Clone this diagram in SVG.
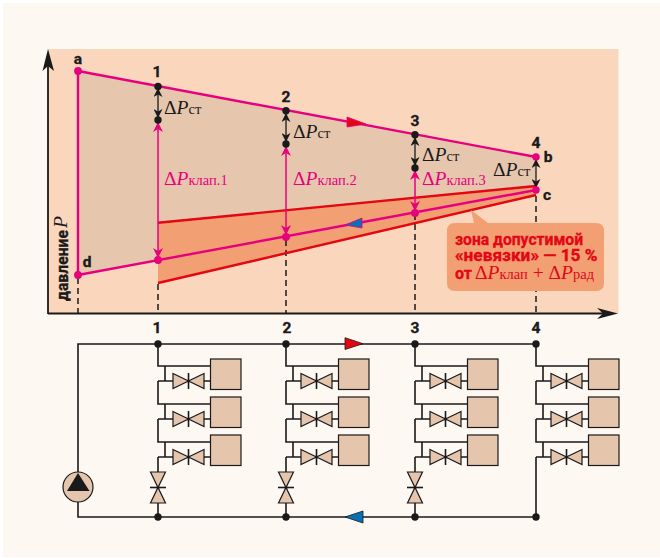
<svg xmlns="http://www.w3.org/2000/svg" xmlns:xlink="http://www.w3.org/1999/xlink" width="660" height="558" viewBox="0 0 660 558">
<style>
.b{font-family:"Roboto","Liberation Sans",sans-serif;font-weight:700;fill:#1a1a1a;stroke:#1a1a1a;stroke-width:.35}
.r{fill:#e30613;stroke:#e30613;font-size:16px}
.d{font-family:"Liberation Serif",serif;font-size:19.500px;fill:#1a1a1a}
.m{fill:#e6007e}
.i{font-style:italic}
.s{font-size:14.500px}
.dash{stroke:#1a1a1a;stroke-width:1.500;stroke-dasharray:6 4;fill:none}
.pipe{stroke:#1a1a1a;stroke-width:1.600;fill:none}
.v{fill:#e6c5ad;stroke:#1a1a1a;stroke-width:1.200}
.pk{stroke:#e6007e;stroke-width:2.400;fill:none}
.rd{stroke:#e30613;stroke-width:2.400;fill:none}
</style>
<defs>
<marker id="aK" viewBox="0 0 10 10" refX="9" refY="5" markerWidth="11" markerHeight="9" markerUnits="userSpaceOnUse" orient="auto-start-reverse"><path d="M0 0L10 5L0 10L3 5Z" fill="#1a1a1a"/></marker>
<marker id="aM" viewBox="0 0 10 10" refX="9" refY="5" markerWidth="13" markerHeight="10" markerUnits="userSpaceOnUse" orient="auto-start-reverse"><path d="M0 0L10 5L0 10L3 5Z" fill="#e6007e"/></marker>
<g id="rads">
<path class="pipe" d="M0 0V22H52M7 22V37H15M0 37H15M0 37V60H52M7 60V75H15M0 75V98H52M7 98V113H15M0 75H15M0 113H15M46 37H52M46 75H52M46 113H52"/>
<g id="v1"><path class="v" d="M15 29.500L30.500 37L15 44.500ZM46 29.500L30.500 37L46 44.500Z"/><path class="pipe" d="M30.500 29V45"/><circle cx="30.500" cy="37" r="1.500" fill="#1a1a1a"/></g>
<use xlink:href="#v1" href="#v1" y="38"/><use xlink:href="#v1" href="#v1" y="76"/>
<rect class="v" x="52.500" y="15" width="30.500" height="30.500" stroke-width="1.300"/>
<rect class="v" x="52.500" y="53" width="30.500" height="30.500" stroke-width="1.300"/>
<rect class="v" x="52.500" y="91" width="30.500" height="30.500" stroke-width="1.300"/>
</g>
<g id="bv"><path class="v" d="M-7.500 0H7.500L0 15.500ZM-7.500 31H7.500L0 15.500Z"/><path class="pipe" d="M-8 15.500H8"/><circle cx="0" cy="15.500" r="1.500" fill="#1a1a1a"/></g>
</defs>
<rect width="660" height="558" fill="#ffffff"/>
<rect x="3" y="3" width="657" height="554" fill="#fdf8f2"/>
<rect x="48" y="49" width="570.500" height="264.500" fill="#fad6bd"/>

<g id="chart-zones">
<path d="M78 71L536 157V186L158 222.700V260L78 275Z" fill="#e6c7ae"/>
<path d="M158 222.700L536 186V195L158 283Z" fill="#f29f73"/>
</g>

<g id="connectors">
<path class="dash" d="M78 278V313M158 284V313M286 240V313M415 214V313M536 196V313"/>
<path d="M48 313.500H604" stroke="#1a1a1a" stroke-width="1.800"/>
<path d="M48 314V62" stroke="#1a1a1a" stroke-width="1.800"/>
<path d="M48 49L54 71L48 66L42.500 71Z" fill="#1a1a1a"/>
<path d="M618 313.500L597 308L603 313.500L597 319Z" fill="#1a1a1a"/>
<path class="rd" d="M158 222.700L536 186M158 283L536 195"/>
<path class="pk" d="M78 71L536 157M78 71V275L536 190"/>
<path d="M347 117L366 124L347 127Z" fill="#e30613" stroke="#e6007e" stroke-width=".8"/>
<path d="M345 225L362 218V228Z" fill="#0a6fb5" stroke="#e6007e" stroke-width=".8"/>
<g stroke="#1a1a1a" stroke-width="1.300" fill="none">
<path d="M158 89V117" marker-start="url(#aK)" marker-end="url(#aK)"/>
<path d="M286 114V141" marker-start="url(#aK)" marker-end="url(#aK)"/>
<path d="M415 138V165" marker-start="url(#aK)" marker-end="url(#aK)"/>
<path d="M536 160V187" marker-start="url(#aK)" marker-end="url(#aK)"/>
</g>
<g stroke="#e6007e" stroke-width="1.500" fill="none">
<path d="M158 123V257" marker-start="url(#aM)" marker-end="url(#aM)"/>
<path d="M286 147V234" marker-start="url(#aM)" marker-end="url(#aM)"/>
<path d="M415 171V210" marker-start="url(#aM)" marker-end="url(#aM)"/>
</g>
<path class="pipe" d="M78 472V344H536M78 502V517H536"/>
<path class="pipe" d="M158 457V472M158 503V517M286 457V472M286 503V517M415 457V472M415 503V517M536 457V517"/>
<path d="M345 337.700L363 343.700L345 349.500Z" fill="#e30613" stroke="#1a1a1a" stroke-width=".8"/>
<path d="M363 511L345 517L363 523Z" fill="#0a6fb5" stroke="#1a1a1a" stroke-width=".8"/>
</g>

<g id="dots">
<g fill="#e6007e"><circle cx="78" cy="71" r="3.900"/><circle cx="78" cy="275" r="3.900"/><circle cx="158" cy="260" r="3.900"/><circle cx="286" cy="237" r="3.900"/><circle cx="415" cy="213" r="3.900"/><circle cx="536" cy="157" r="3.700"/><circle cx="536" cy="190" r="3.700"/></g>
<g fill="#1a1a1a"><circle cx="158" cy="86.500" r="3.700"/><circle cx="158" cy="120" r="3.700"/><circle cx="286" cy="110.700" r="3.700"/><circle cx="286" cy="144" r="3.700"/><circle cx="415" cy="134.700" r="3.700"/><circle cx="415" cy="168" r="3.700"/>
<circle cx="158" cy="344" r="3.700"/><circle cx="286" cy="344" r="3.700"/><circle cx="415" cy="344" r="3.700"/><circle cx="536" cy="344" r="3.700"/><circle cx="158" cy="517" r="3.700"/><circle cx="286" cy="517" r="3.700"/><circle cx="415" cy="517" r="3.700"/><circle cx="536" cy="517" r="3.700"/></g>
</g>

<g id="chart-labels">
<text class="b" x="78" y="64" font-size="15.500" text-anchor="middle">a</text>
<text class="b" x="87" y="267" font-size="15.500" text-anchor="middle">d</text>
<text class="b" x="548" y="162" font-size="15.500" text-anchor="middle">b</text>
<text class="b" x="547" y="200" font-size="15.500" text-anchor="middle">c</text>
<text class="b" x="157" y="77" font-size="15.500" text-anchor="middle">1</text>
<text class="b" x="286" y="102" font-size="15.500" text-anchor="middle">2</text>
<text class="b" x="415" y="126" font-size="15.500" text-anchor="middle">3</text>
<text class="b" x="536" y="148" font-size="15.500" text-anchor="middle">4</text>
<text class="b" x="157" y="333" font-size="15.500" text-anchor="middle">1</text>
<text class="b" x="287" y="333" font-size="15.500" text-anchor="middle">2</text>
<text class="b" x="415" y="333" font-size="15.500" text-anchor="middle">3</text>
<text class="b" x="536" y="333" font-size="15.500" text-anchor="middle">4</text>
<text class="b" transform="translate(68 301) rotate(-90)" font-size="16" textLength="71" lengthAdjust="spacingAndGlyphs">давление</text>
<text class="d i" transform="translate(67 228) rotate(-90)" font-size="19">P</text>
<text class="d" x="164" y="114">Δ<tspan class="i">P</tspan><tspan class="s">ст</tspan></text>
<text class="d" x="293" y="138">Δ<tspan class="i">P</tspan><tspan class="s">ст</tspan></text>
<text class="d" x="422" y="161">Δ<tspan class="i">P</tspan><tspan class="s">ст</tspan></text>
<text class="d" x="493" y="176">Δ<tspan class="i">P</tspan><tspan class="s">ст</tspan></text>
<text class="d m" x="164" y="185">Δ<tspan class="i">P</tspan><tspan class="s">клап.1</tspan></text>
<text class="d m" x="293" y="185">Δ<tspan class="i">P</tspan><tspan class="s">клап.2</tspan></text>
<text class="d m" x="422" y="185">Δ<tspan class="i">P</tspan><tspan class="s">клап.3</tspan></text>
</g>

<g id="callout">
<path d="M471 210L488 223H596Q604 223 604 231V283Q604 291 596 291H455Q447 291 447 283V231Q447 223 455 223H474Z" fill="#f29f73"/>
<text class="b r" x="455" y="245" textLength="128" lengthAdjust="spacingAndGlyphs">зона допустимой</text>
<text class="b r" x="455" y="261" textLength="142.500" lengthAdjust="spacingAndGlyphs">«невязки» — 15 %</text>
<text class="b r" x="455" y="279">от</text>
<text class="d" x="475" y="279" style="fill:#e30613" font-size="18">Δ<tspan class="i">P</tspan><tspan class="s">клап</tspan> + Δ<tspan class="i">P</tspan><tspan class="s">рад</tspan></text>
</g>

<g id="node-1"><use xlink:href="#rads" href="#rads" x="158" y="344"/><use xlink:href="#bv" href="#bv" x="158" y="472"/></g>
<g id="node-2"><use xlink:href="#rads" href="#rads" x="286" y="344"/><use xlink:href="#bv" href="#bv" x="286" y="472"/></g>
<g id="node-3"><use xlink:href="#rads" href="#rads" x="415" y="344"/><use xlink:href="#bv" href="#bv" x="415" y="472"/></g>
<g id="node-4"><use xlink:href="#rads" href="#rads" x="536" y="344"/></g>
<g id="pump">
<circle cx="78" cy="487" r="15" fill="#e6c5ad" stroke="#1a1a1a" stroke-width="1.200"/>
<path d="M78 473L89.500 491H67Z" fill="#1a1a1a"/>
</g>
</svg>
